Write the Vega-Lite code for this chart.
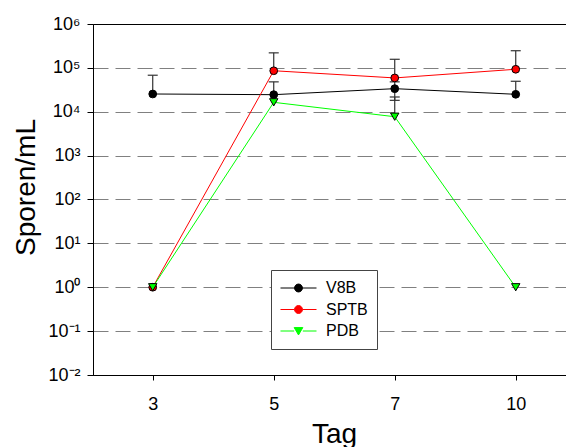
{
  "$schema": "https://vega.github.io/schema/vega-lite/v6.json",
  "width": 473,
  "height": 351,
  "autosize": {"type": "none"},
  "padding": {"left": 93, "top": 24, "right": 0, "bottom": 72},
  "background": "white",
  "config": {
    "font": "Liberation Sans",
    "view": {"stroke": "black", "strokeWidth": 1},
    "axis": {
      "domainColor": "black",
      "tickColor": "black",
      "labelColor": "black",
      "titleColor": "black",
      "labelFont": "Liberation Sans",
      "titleFont": "Liberation Sans",
      "titleFontWeight": "normal",
      "domainWidth": 1,
      "tickWidth": 1
    },
    "legend": {
      "labelFont": "Liberation Sans",
      "labelFontSize": 16,
      "labelColor": "black"
    }
  },
  "datasets": {
    "points": [
      {"tag": 3, "series": "V8B", "value": 25400},
      {"tag": 5, "series": "V8B", "value": 24500},
      {"tag": 7, "series": "V8B", "value": 33600},
      {"tag": 10, "series": "V8B", "value": 25000},
      {"tag": 3, "series": "SPTB", "value": 1},
      {"tag": 5, "series": "SPTB", "value": 86000},
      {"tag": 7, "series": "SPTB", "value": 59000},
      {"tag": 10, "series": "SPTB", "value": 93000},
      {"tag": 3, "series": "PDB", "value": 1},
      {"tag": 5, "series": "PDB", "value": 16400},
      {"tag": 7, "series": "PDB", "value": 7700},
      {"tag": 10, "series": "PDB", "value": 1}
    ],
    "errors": [
      {"tag": 3, "series": "V8B", "from": 25400, "to": 68000},
      {"tag": 5, "series": "V8B", "from": 24500, "to": 48000},
      {"tag": 7, "series": "V8B", "from": 33600, "to": 48000},
      {"tag": 7, "series": "V8B", "from": 33600, "to": 18200},
      {"tag": 10, "series": "V8B", "from": 25000, "to": 49500},
      {"tag": 5, "series": "SPTB", "from": 86000, "to": 220000},
      {"tag": 7, "series": "SPTB", "from": 59000, "to": 157000},
      {"tag": 10, "series": "SPTB", "from": 93000, "to": 246000},
      {"tag": 7, "series": "PDB", "from": 7700, "to": 21700}
    ]
  },
  "layer": [
    {
      "data": {"name": "points"},
      "mark": {"type": "line", "strokeWidth": 1},
      "encoding": {
        "x": {
          "field": "tag",
          "type": "ordinal",
          "scale": {"type": "point", "padding": 0.4545, "align": 0.543},
          "axis": {
            "title": "Tag",
            "titleFontSize": 28,
            "titleX": 241,
            "titleY": 67,
            "titleBaseline": "alphabetic",
            "titleAlign": "center",
            "labelAngle": 0,
            "labelFontSize": 18,
            "labelBaseline": "alphabetic",
            "labelPadding": 29,
            "tickSize": 5,
            "grid": false
          }
        },
        "y": {
          "field": "value",
          "type": "quantitative",
          "scale": {"type": "log", "domain": [0.01, 1000000], "nice": false},
          "axis": {
            "title": "Sporen/mL",
            "titleFontSize": 28,
            "titleAngle": 270,
            "titleX": -59,
            "titleY": 163,
            "titleBaseline": "alphabetic",
            "titleAlign": "center",
            "values": [0.01, 0.1, 1, 10, 100, 1000, 10000, 100000, 1000000],
            "labelExpr": "'10' + ['⁻²','⁻¹','⁰','¹','²','³','⁴','⁵','⁶'][round(log(datum.value)/LN10)+2]",
            "labelFontSize": 18,
            "labelPadding": 7,
            "labelOverlap": false,
            "labelFlush": false,
            "tickSize": 6,
            "grid": true,
            "gridColor": "#808080",
            "gridDash": [15, 7],
            "gridWidth": 1,
            "gridOpacity": {"condition": {"test": "datum.value >= 1000000 || datum.value <= 0.01", "value": 0}, "value": 1}
          }
        },
        "color": {
          "field": "series",
          "type": "nominal",
          "scale": {"domain": ["V8B", "SPTB", "PDB"], "range": ["#000000", "#ff0000", "#00ff00"]},
          "legend": {
            "title": null,
            "orient": "none",
            "legendX": 178,
            "legendY": 246,
            "padding": 9,
            "strokeColor": "#444444",
            "fillColor": "white",
            "symbolSize": 1296,
            "symbolStrokeWidth": 1,
            "clipHeight": 18,
            "rowPadding": 3.5,
            "labelOffset": 9,
            "encode": {
              "symbols": {
                "update": {
                  "shape": {"signal": "datum.value === 'PDB' ? 'M-1,0L-0.24,0M0.24,0L1,0M-0.24,-0.19L0.24,-0.19L0,0.22Z' : 'M-1,0L-0.22,0M0.22,0L1,0M0.22,0C0.22,0.1215 0.1215,0.22 0,0.22C-0.1215,0.22 -0.22,0.1215 -0.22,0C-0.22,-0.1215 -0.1215,-0.22 0,-0.22C0.1215,-0.22 0.22,-0.1215 0.22,0Z'"},
                  "size": {"value": 1296},
                  "fill": {"signal": "scale('color', datum.value)"},
                  "stroke": {"signal": "scale('color', datum.value)"},
                  "strokeWidth": {"value": 1},
                  "opacity": {"value": 1}
                }
              }
            }
          }
        }
      }
    },
    {
      "data": {"name": "errors"},
      "mark": {"type": "rule", "color": "#333333", "strokeWidth": 1.2},
      "encoding": {
        "x": {"field": "tag", "type": "ordinal"},
        "y": {"field": "from", "type": "quantitative"},
        "y2": {"field": "to"}
      }
    },
    {
      "data": {"name": "errors"},
      "mark": {"type": "tick", "color": "#333333", "size": 10, "thickness": 1.2, "opacity": 1},
      "encoding": {
        "x": {"field": "tag", "type": "ordinal"},
        "y": {"field": "to", "type": "quantitative"}
      }
    },
    {
      "data": {"name": "points"},
      "transform": [{"filter": "datum.series !== 'PDB'"}],
      "mark": {"type": "point", "shape": "circle", "filled": true, "stroke": "black", "strokeWidth": 1, "size": 60, "opacity": 1},
      "encoding": {
        "x": {"field": "tag", "type": "ordinal"},
        "y": {"field": "value", "type": "quantitative"},
        "color": {"field": "series", "type": "nominal"}
      }
    },
    {
      "data": {"name": "points"},
      "transform": [{"filter": "datum.series === 'PDB'"}],
      "mark": {"type": "point", "shape": "triangle-down", "filled": true, "stroke": "black", "strokeWidth": 1, "size": 70, "opacity": 1},
      "encoding": {
        "x": {"field": "tag", "type": "ordinal"},
        "y": {"field": "value", "type": "quantitative"},
        "color": {"field": "series", "type": "nominal"}
      }
    }
  ]
}
